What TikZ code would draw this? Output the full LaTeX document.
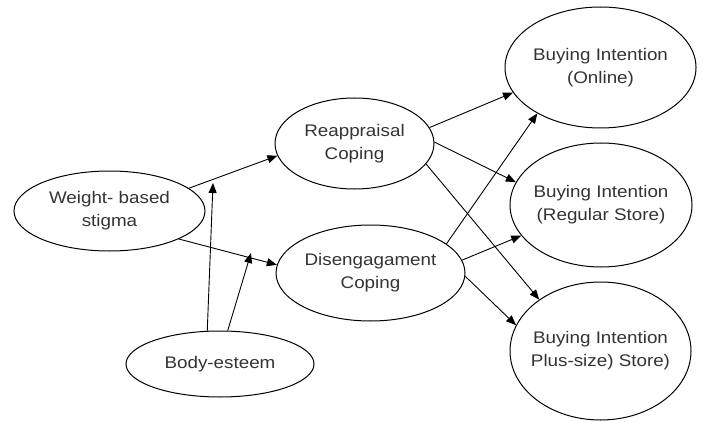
\documentclass[tikz,border=0pt]{standalone}
\usepackage{fontspec}
\setmainfont{Liberation Sans}[FakeStretch=1.12]
\usetikzlibrary{shapes.geometric,arrows.meta}
\begin{document}
\begin{tikzpicture}[x=1pt,y=-1pt,
  ell/.style={ellipse,draw,line width=1pt,inner sep=0pt,align=center,text=black!80,
    font=\fontsize{16.8}{23}\selectfont},
  arr/.style={line width=0.9pt,-{Triangle[length=10pt,width=8pt]}}]
\useasboundingbox (0,0) rectangle (703,422);
\node[ell,minimum width=191pt,minimum height=80pt] (wbs) at (109.5,211) {Weight- based\\stigma};
\node[ell,minimum width=159pt,minimum height=91pt] (reap) at (354.5,143.5) {Reappraisal\\Coping};
\node[ell,minimum width=189pt,minimum height=96pt] (dis) at (370.5,273) {Disengagament\\Coping};
\node[ell,minimum width=188pt,minimum height=66pt] (body) at (220,364) {Body-esteem};
\node[ell,minimum width=191pt,minimum height=121pt] (onl) at (600.5,67.5) {Buying Intention\\(Online)};
\node[ell,minimum width=182pt,minimum height=124pt,inner xsep=-12pt] (reg) at (601,205) {Buying Intention\\(Regular Store)};
\node[ell,minimum width=181pt,minimum height=138pt,inner xsep=-12pt] (plus) at (600.5,351) {Buying Intention\\Plus-size) Store)};
\coordinate (m1) at (213,183);
\coordinate (m2) at (251,253);
\draw[arr] (wbs.16.6) -- (reap.189.6);
\draw[arr] (wbs.-22.2) -- (dis.175.8);
\draw[arr] (body.111.3) -- (m1);
\draw[arr] (body.77) -- (m2);
\draw[arr] (reap.12.5) -- (onl.196);
\draw[arr] (reap.1.8) -- (reg.165);
\draw[arr] (reap.-16.2) -- (plus.140.8);
\draw[arr] (dis.21.3) -- (onl.216);
\draw[arr] (dis.8.9) -- (reg.201.7);
\draw[arr] (dis.-2.4) -- (plus.163.1);
\end{tikzpicture}
\end{document}
